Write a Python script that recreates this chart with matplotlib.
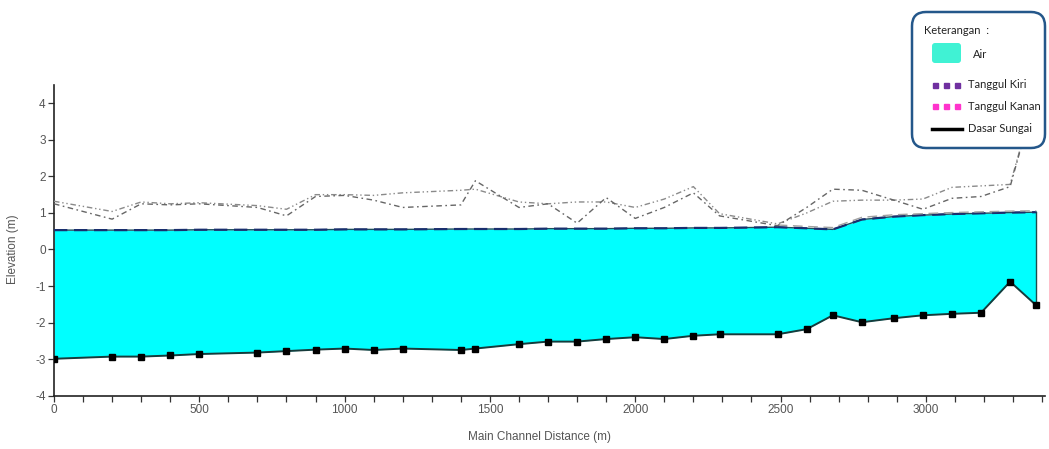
import matplotlib
matplotlib.use("Agg")
import numpy as np
import matplotlib.pyplot as plt
from matplotlib.patches import FancyBboxPatch
from matplotlib.lines import Line2D

plt.rcParams["axes.unicode_minus"] = False

# === Data profil memanjang sungai ===
jarak = [0, 200, 300, 400, 500, 700, 800, 900, 1000, 1100, 1200, 1400, 1450,
         1600, 1700, 1800, 1900, 2000, 2100, 2200, 2290, 2490, 2590, 2680,
         2780, 2890, 2990, 3090, 3190, 3290, 3380]

dasar_sungai = [-2.99, -2.93, -2.93, -2.90, -2.86, -2.82, -2.78, -2.74, -2.71,
                -2.75, -2.71, -2.75, -2.71, -2.59, -2.52, -2.52, -2.45, -2.40,
                -2.45, -2.36, -2.32, -2.32, -2.18, -1.80, -1.99, -1.88, -1.80,
                -1.76, -1.73, -0.88, -1.53]

muka_air = [0.53, 0.53, 0.53, 0.53, 0.54, 0.54, 0.54, 0.54, 0.55, 0.55, 0.55,
            0.56, 0.56, 0.56, 0.57, 0.57, 0.57, 0.58, 0.58, 0.59, 0.59, 0.61,
            0.58, 0.55, 0.82, 0.90, 0.94, 0.97, 0.99, 1.01, 1.02]

tanggul_kanan = [1.32, 1.04, 1.30, 1.25, 1.28, 1.20, 1.10, 1.50, 1.50, 1.48,
                 1.55, 1.62, 1.65, 1.30, 1.25, 1.30, 1.30, 1.15, 1.38, 1.72,
                 0.98, 0.70, 1.00, 1.32, 1.35, 1.35, 1.38, 1.70, 1.74, 1.78,
                 4.30]

tanggul_kiri = [1.25, 0.83, 1.25, 1.22, 1.25, 1.15, 0.92, 1.45, 1.48, 1.35,
                1.15, 1.22, 1.88, 1.15, 1.25, 0.72, 1.42, 0.85, 1.15, 1.55,
                0.92, 0.65, 1.15, 1.65, 1.62, 1.35, 1.10, 1.40, 1.45, 1.72,
                4.30]

# garis abu-abu tipis di atas muka air (hilir)
jarak_tebing = [2490, 2590, 2680, 2780, 2890, 2990, 3090, 3190, 3290, 3380]
tebing = [0.67, 0.63, 0.60, 0.88, 0.95, 0.98, 1.01, 1.03, 1.05, 1.06]

xticks = [0, 500, 1000, 1500, 2000, 2500, 3000]
yticks = [-4, -3, -2, -1, 0, 1, 2, 3, 4]

legend_labels = ["Air", "Tanggul Kiri", "Tanggul Kanan", "Dasar Sungai"]

# === Figura ===
fig = plt.figure(figsize=(10.49, 4.49), dpi=100)
ax = fig.add_axes([54 / 1049, 1 - 395.7 / 449, 991 / 1049, 310.7 / 449])

x = np.array(jarak)
ax.fill_between(x, dasar_sungai, muka_air, color="#00FFFF", lw=0, zorder=1)
ax.plot([x[-1], x[-1]], [dasar_sungai[-1], muka_air[-1]], color="#1c4f4f", lw=1, zorder=2)

ax.plot(x, muka_air, color="#1d4f5c", lw=1.0, zorder=3)
ax.plot(x, muka_air, color="#1a2f6e", lw=1.6, dashes=(6, 3), zorder=3)
ax.plot(jarak_tebing, tebing, color="#a0a0a0", lw=1.0, dashes=(7, 4), zorder=3)

ax.plot(x, tanggul_kanan, color="#8a8a8a", lw=1.0, dashes=(4, 2, 1, 2, 1, 2), zorder=3)
ax.plot(x, tanggul_kiri, color="#666666", lw=1.0, dashes=(4, 2.5, 1.2, 2.5), zorder=3)

ax.plot(x, dasar_sungai, color="#173b3b", lw=1.4, marker="s", ms=4.2,
        mfc="black", mec="black", zorder=4)

ax.set_xlim(0, 3410)
ax.set_ylim(-4, 4.5)
for s in ["top", "right"]:
    ax.spines[s].set_visible(False)
for s in ["left", "bottom"]:
    ax.spines[s].set_color("#222222")
    ax.spines[s].set_linewidth(1.2)

ax.set_xticks(xticks)
ax.set_xticks(np.arange(0, 3401, 100), minor=True)
ax.set_yticks(yticks)
ax.tick_params(axis="both", which="both", direction="out", length=4,
               width=0.9, colors="#333333", labelcolor="#555555", labelsize=8.5, pad=2)

fnt = ["Liberation Sans Narrow", "Liberation Sans", "DejaVu Sans"]
for lab in ax.get_xticklabels() + ax.get_yticklabels():
    lab.set_family(fnt)

ax.set_xlabel("Main Channel Distance (m)", fontsize=8.5, color="#555555", family=fnt)
ax.xaxis.set_label_coords(0.49, -0.115)
ax.set_ylabel("Elevation (m)", fontsize=8.5, color="#555555", family=["Liberation Sans", "DejaVu Sans"])
ax.yaxis.set_label_coords(-0.035, 0.47)

# === Kotak keterangan (koordinat piksel) ===
lg = fig.add_axes([0, 0, 1, 1], zorder=10)
lg.set_xlim(0, 1049)
lg.set_ylim(449, 0)
lg.axis("off")
lg.patch.set_alpha(0)

lg.add_patch(FancyBboxPatch((912, 12), 133, 136, boxstyle="round,pad=0,rounding_size=14",
                            fc="white", ec="#24578a", lw=1.8))
lfont = ["Lato", "DejaVu Sans"]
fs = 8
lg.text(924, 31, "Keterangan  :", fontsize=fs, color="#222222", va="center", family=lfont)
lg.add_patch(FancyBboxPatch((932, 43), 29, 20, boxstyle="round,pad=0,rounding_size=3",
                            fc="#40F2D4", ec="none"))
lg.text(973, 54, legend_labels[0], fontsize=fs, color="#222222", va="center", family=lfont)

for yy, col, lab in [(85, "#7030A0", legend_labels[1]), (106, "#FF33CC", legend_labels[2])]:
    lg.add_line(Line2D([935, 946, 957], [yy, yy, yy], ls="none", marker="s", ms=3.6,
                       mfc=col, mec=col))
    lg.text(968, yy, lab, fontsize=fs, color="#222222", va="center", family=lfont)

lg.add_line(Line2D([932, 962], [129, 129], color="black", lw=2.5))
lg.text(968, 129, legend_labels[3], fontsize=fs, color="#222222", va="center", family=lfont)

fig.savefig("out.png", dpi=100)
